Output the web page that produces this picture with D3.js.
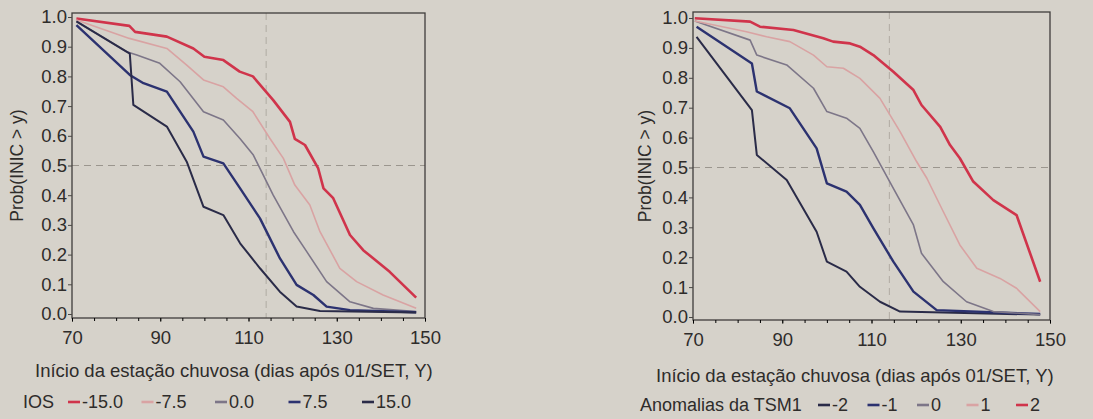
<!DOCTYPE html>
<html>
<head>
<meta charset="utf-8">
<script src="https://cdn.jsdelivr.net/npm/d3@7"></script>
<style>
  body { margin: 0; background: #d6d2ca; }
  svg { display: block; }
  text { font-family: "Liberation Sans", Arial, sans-serif; fill: #2e2c2a; }
</style>
</head>
<body>
<div id="chart"></div>
<script>
// ---- data: [dia, Prob(INIC > y)] ----
const iosNames = ['-15.0', '-7.5', '0.0', '7.5', '15.0'];
const iosM15 = [[71,0.995],[83,0.97],[84.3,0.95],[91.5,0.934],[97.5,0.894],[100,0.866],[104.3,0.855],[108,0.816],[111,0.80],[115.6,0.72],[119.4,0.647],[120.5,0.59],[122.8,0.569],[125.8,0.49],[127,0.423],[129.2,0.39],[133,0.266],[136,0.215],[142,0.142],[148,0.055]];
const iosM7 = [[71,0.99],[83,0.928],[91.5,0.894],[96,0.838],[99.8,0.788],[104.3,0.765],[107.3,0.726],[111,0.681],[114.9,0.59],[117.9,0.524],[120.5,0.434],[123.9,0.367],[126.2,0.277],[130.7,0.154],[134.5,0.109],[140.5,0.064],[148,0.019]];
const ios0 = [[71,0.985],[82.4,0.883],[84.7,0.872],[89.9,0.844],[94.5,0.782],[99.8,0.681],[104.3,0.653],[108.1,0.59],[111.1,0.535],[115.6,0.40],[120.2,0.277],[123.2,0.21],[127.7,0.109],[133,0.041],[138.3,0.019],[148,0.008]];
const iosP7 = [[71,0.973],[83.1,0.805],[86.2,0.777],[91.5,0.749],[97.5,0.614],[99.8,0.53],[104.3,0.507],[108.1,0.423],[112.6,0.322],[117.1,0.188],[120.9,0.098],[124.7,0.064],[127.7,0.025],[133,0.013],[148,0.006]];
const iosP15 = [[71,0.985],[83.1,0.877],[83.9,0.704],[91.5,0.631],[96,0.513],[99.8,0.361],[104.3,0.333],[108.1,0.238],[112.6,0.154],[117.1,0.075],[120.9,0.025],[126.2,0.01],[148,0.005]];

const tsmNames = ['-2', '-1', '0', '1', '2'];
const tsmM2 = [[70.8,0.937],[83.2,0.692],[84.3,0.542],[91,0.458],[97.7,0.285],[100,0.185],[104.4,0.152],[107.4,0.101],[111.9,0.051],[116.4,0.018],[147.8,0.008]];
const tsmM1 = [[70.8,0.971],[83.2,0.848],[84.3,0.754],[91.7,0.698],[97.7,0.564],[100,0.447],[104.4,0.419],[107.4,0.375],[110.4,0.297],[114.9,0.185],[119.4,0.085],[124.6,0.023],[147.8,0.01]];
const tsm0 = [[70.4,0.99],[82.8,0.926],[84.3,0.876],[91,0.843],[97,0.765],[100,0.687],[104.4,0.665],[107.4,0.631],[110.4,0.553],[114.9,0.43],[119.4,0.308],[121.2,0.213],[126.1,0.118],[131.3,0.051],[137.3,0.018],[147.8,0.008]];
const tsmP1 = [[70.4,0.99],[82,0.954],[86.5,0.937],[91.7,0.921],[97,0.876],[100,0.837],[103.7,0.832],[107.4,0.798],[111.9,0.731],[116.4,0.62],[120.1,0.52],[122.4,0.464],[126.1,0.352],[129.8,0.241],[133.6,0.163],[138.8,0.129],[142.5,0.096],[147.8,0.018]];
const tsmP2 = [[70.4,0.999],[82.8,0.988],[85,0.971],[92.5,0.96],[99.2,0.932],[101.4,0.921],[105.2,0.915],[107.4,0.904],[110.4,0.876],[114.9,0.82],[119.4,0.759],[121.2,0.709],[125.4,0.636],[127.6,0.575],[129.8,0.531],[132.8,0.453],[137.3,0.391],[142.5,0.341],[147.8,0.118]];

const xTicks = [70, 90, 110, 130, 150];
const yTicks = [0, 0.1, 0.2, 0.3, 0.4, 0.5, 0.6, 0.7, 0.8, 0.9, 1.0];
const refDay = 114;
const refProb = 0.5;

const width = 1093, height = 419;
const svg = d3.select('#chart').append('svg')
    .attr('width', width)
    .attr('height', height);

// series styles (red = late onset ... navy = early onset)
const styles = [
    {color: '#d0344b', w: 2.6},
    {color: '#d9a3a3', w: 1.6},
    {color: '#7d7688', w: 1.6},
    {color: '#2c3270', w: 2.4},
    {color: '#2a2b48', w: 2.0}
];

function drawPanel(cfg) {
    const x = d3.scaleLinear().domain([70, 150]).range([cfg.left, cfg.right]);
    const y = d3.scaleLinear().domain([0, 1]).range([cfg.y0, cfg.y1]);
    const g = svg.append('g');

    // reference cross (dashed)
    g.append('line')
        .attr('x1', cfg.left).attr('x2', cfg.right)
        .attr('y1', y(refProb)).attr('y2', y(refProb))
        .attr('stroke', '#9b968e').attr('stroke-width', 1.2)
        .attr('stroke-dasharray', '7,5');
    g.append('line')
        .attr('x1', x(refDay)).attr('x2', x(refDay))
        .attr('y1', cfg.top).attr('y2', cfg.bottom)
        .attr('stroke', '#b0aba2').attr('stroke-width', 1)
        .attr('stroke-dasharray', '7,5');

    // curves
    const line = d3.line().x(d => x(d[0])).y(d => y(d[1]));
    cfg.series.forEach((s, i) => {
        const st = cfg.styleOf(i);
        g.append('path')
            .datum(s)
            .attr('d', line)
            .attr('fill', 'none')
            .attr('stroke', st.color)
            .attr('stroke-width', st.w)
            .attr('stroke-linejoin', 'round');
    });

    // frame
    g.append('rect')
        .attr('x', cfg.left).attr('y', cfg.top)
        .attr('width', cfg.right - cfg.left)
        .attr('height', cfg.bottom - cfg.top)
        .attr('fill', 'none')
        .attr('stroke', '#3f3d3b')
        .attr('stroke-width', 1.3);

    // x axis
    const xAxis = g.append('g')
        .attr('transform', `translate(0,${cfg.bottom})`)
        .call(d3.axisBottom(x).tickValues(xTicks).tickSize(4).tickPadding(9).tickFormat(d3.format('d')));
    g.append('g')
        .attr('transform', `translate(0,${cfg.bottom})`)
        .call(d3.axisBottom(x).tickValues(d3.range(70, 151, 5)).tickSize(3).tickFormat(''))
        .call(a => a.select('.domain').remove());

    // y axis
    const yAxis = g.append('g')
        .attr('transform', `translate(${cfg.left},0)`)
        .call(d3.axisLeft(y).tickValues(yTicks).tickSize(4).tickPadding(1).tickFormat(d3.format('.1f')));

    [xAxis, yAxis].forEach(a => {
        a.select('.domain').remove();
        a.selectAll('line').attr('stroke', '#4a4845');
        a.selectAll('text').style('font-size', '18.5px').attr('fill', '#3a3836')
            .style('font-family', '"Liberation Sans", Arial, sans-serif');
    });

    // axis titles
    g.append('text')
        .attr('transform', `translate(${cfg.yLabelX},${(cfg.top + cfg.bottom) / 2}) rotate(-90)`)
        .attr('text-anchor', 'middle')
        .attr('dy', '0.35em')
        .style('font-size', '17.5px')
        .text('Prob(INIC > y)');
    g.append('text')
        .attr('x', cfg.titleX)
        .attr('y', cfg.titleY)
        .attr('dy', '0.35em')
        .style('font-size', '18.5px')
        .text('Início da estação chuvosa (dias após 01/SET, Y)');

    // legend
    const lg = g.append('g').attr('transform', `translate(0,${cfg.legendY})`);
    lg.append('text')
        .attr('x', cfg.legendX)
        .attr('dy', '0.35em')
        .style('font-size', '18px')
        .text(cfg.legendTitle);
    cfg.names.forEach((n, i) => {
        const st = cfg.styleOf(i);
        const sx = cfg.legendStart + i * cfg.legendStep;
        lg.append('line')
            .attr('x1', sx).attr('x2', sx + 12)
            .attr('y1', 0).attr('y2', 0)
            .attr('stroke', st.color)
            .attr('stroke-width', 2.6);
        lg.append('text')
            .attr('x', sx + 14)
            .attr('dy', '0.35em')
            .style('font-size', '18px')
            .text(n);
    });
}

// left: IOS
drawPanel({
    left: 72, right: 425, top: 13, bottom: 318, y0: 314, y1: 17,
    series: [iosM15, iosM7, ios0, iosP7, iosP15],
    styleOf: i => styles[i],
    names: iosNames,
    yLabelX: 17,
    titleX: 35, titleY: 371,
    legendTitle: 'IOS', legendX: 23, legendY: 402,
    legendStart: 68, legendStep: 73.5
});

// right: anomalias da TSM
drawPanel({
    left: 693, right: 1050, top: 12, bottom: 320, y0: 317, y1: 18,
    series: [tsmM2, tsmM1, tsm0, tsmP1, tsmP2],
    styleOf: i => styles[4 - i],
    names: tsmNames,
    yLabelX: 645,
    titleX: 656, titleY: 376,
    legendTitle: 'Anomalias da TSM1', legendX: 640, legendY: 405,
    legendStart: 818, legendStep: 49.5
});
</script>
</body>
</html>
